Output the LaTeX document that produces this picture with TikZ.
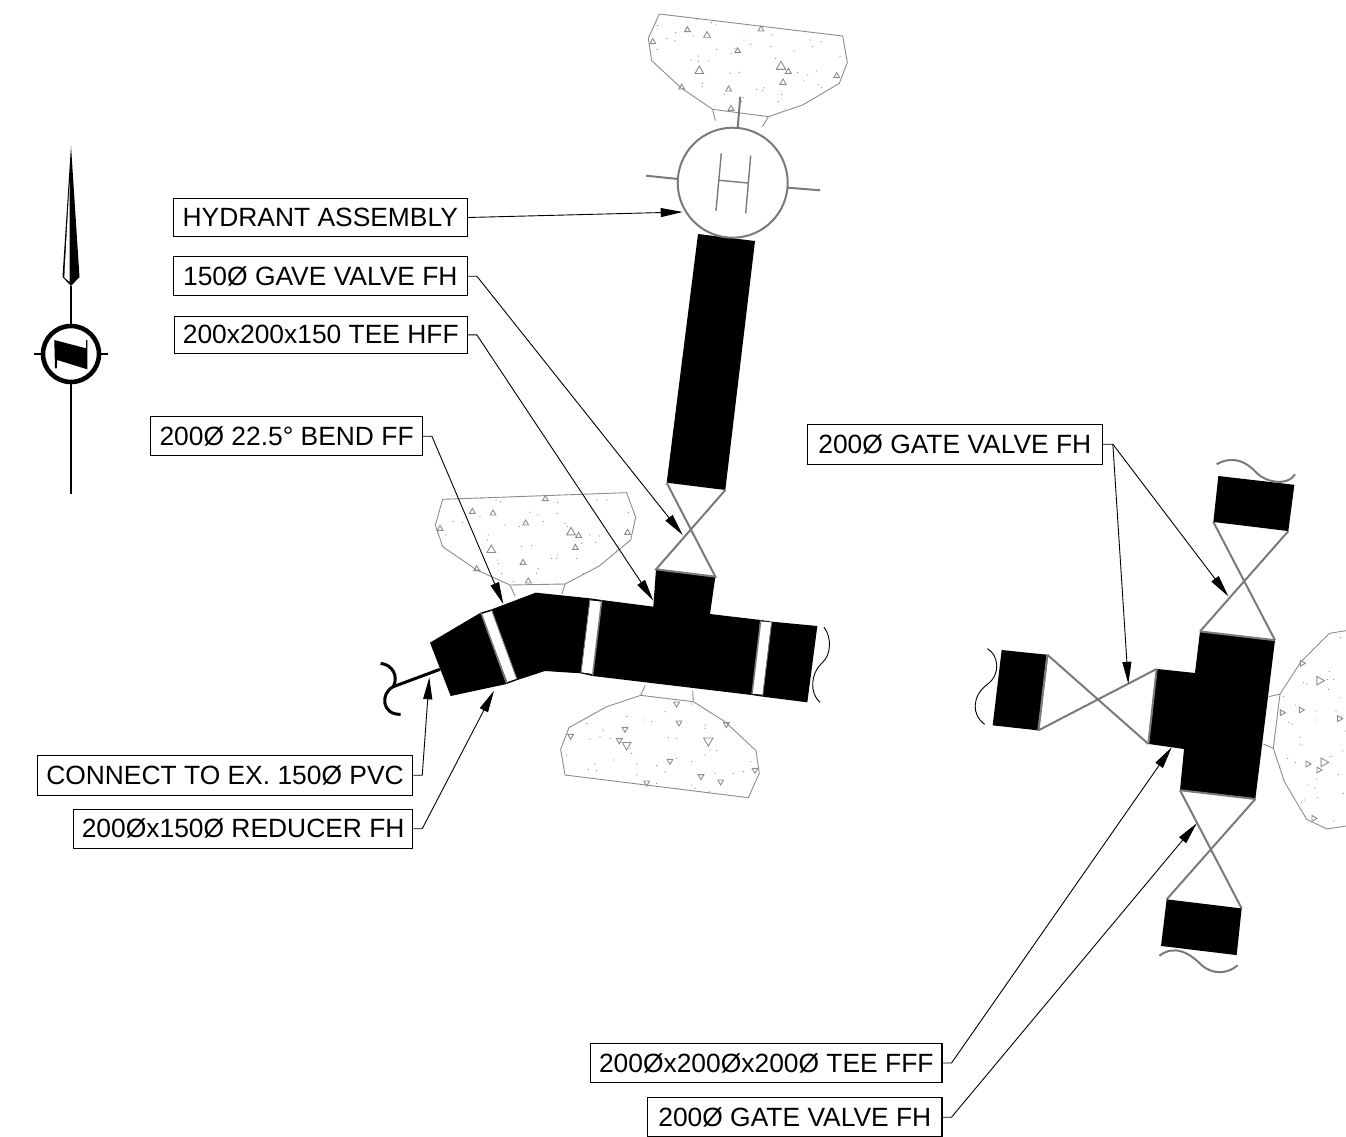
\documentclass[tikz,border=0pt]{standalone}
\usepackage{fontspec}
\setmainfont{Liberation Sans}
\usetikzlibrary{arrows.meta}
\definecolor{linegray}{HTML}{7A7A7A}
\definecolor{blockgray}{HTML}{8C8C8C}
\tikzset{
  label box/.style={draw=black,line width=1.1pt,fill=white,inner sep=0pt,align=center,
    font=\fontsize{26.4}{30}\selectfont},
  leader/.style={draw=black,line width=0.9pt,-{Triangle[length=22pt,width=9pt]}},
  fitting/.style={fill=black,draw=none},
  valve line/.style={draw=linegray,line width=2pt},
  gap line/.style={draw=linegray,line width=1.5pt},
  block/.style={draw=blockgray,line width=0.9pt},
  gap/.style={fill=white,draw=none},
  curl/.style={draw=black,line width=0.9pt},
}
\newcommand{\aggtri}[2]{% rotation; list of x/y/r
  \foreach \a/\b/\s in {#2}{\draw[block] (\a,\b) +(#1:1.25*\s) -- +(#1+120:1.25*\s) -- +(#1+240:1.25*\s) -- cycle;}}
\newcommand{\aggdots}[1]{%
  \foreach \a/\b in {#1}{\fill[blockgray] (\a,\b) circle (1.8);}}
\begin{document}
\begin{tikzpicture}[x=1pt,y=-1pt]
\useasboundingbox (0,0) rectangle (1346,1137);
\clip (0,0) rectangle (1346,1137);

% north arrow
\fill[black] (71,146) -- (79.5,277) -- (71,286) -- (62.5,277) -- cycle;
\fill[white] (69.6,182) -- (69.6,282) -- (64.4,277.5) -- (64.6,270) -- cycle;
\draw[black,line width=1.3pt] (71,286) -- (71,494);
\draw[black,line width=1.3pt] (34,354) -- (108,354);
\draw[black,fill=white,line width=4.6pt] (71,354) circle (28);
\fill[black] (54.3,340) -- (86,348.3) -- (86,340) -- (87.3,340) -- (87.3,369.3) -- (57.3,360) -- (56.7,368.3) -- (55,368.3) -- cycle;

% hydrant
\begin{scope}[shift={(630,0)},scale=1/3]
\draw[block] (88,42) -- (638,108) -- (652,187) -- (628,250) -- (518,315) -- (415,350) -- (248,328) -- (155,265) -- (65,182) -- (55,115) -- cycle;
\draw[block] (248,328) -- (256,362);
\draw[block] (415,350) -- (397,380);
\aggtri{-90}{172/90/8,231/106/9,68/126/8,393/88/8,323/153/8,208/213/12,453/200/13,475/215/8,459/248/9,620/228/8,296/268/8,155/262/8,303/326/8}
\aggdots{83/77,203/58,245/68,258/75,137/98,190/108,110/115,135/122,82/148,260/148,205/168,183/180,205/185,237/183,342/120,362/133,315/145,303/160,425/105,422/140,492/153,540/120,573/125,547/140,630/170,437/175,503/218,533/225,560/213,522/243,565/255,575/263,300/220,328/217,217/250,216/260,380/268,402/263,397/272,455/283,445/305,283/283,340/293,335/305,255/318,465/327,163/268}
\end{scope}
\fill[fitting] (698,234) -- (755,241) -- (725.3,490) -- (666.7,482.7) -- cycle;
\draw[valve line,fill=white] (732.7,182.7) circle (55);
\draw[valve line] (646,175.7) -- (678,179);
\draw[valve line] (788,187.7) -- (820,190.3);
\draw[valve line] (737.7,127.7) -- (740.3,96.7);
\draw[draw=linegray,line width=1.4pt] (721.3,153.3) -- (716,210.7) (750.7,155.7) -- (745.7,213.3) (718.7,180.3) -- (748.3,183);

% west block
\begin{scope}[shift={(370,480)},scale=1/3]
\draw[block] (218,58) -- (770,38) -- (797,112) -- (782,180) -- (688,258) -- (585,312) -- (420,315) -- (320,270) -- (218,200) -- (196,135) -- cycle;
\draw[block] (420,315) -- (435,348);
\draw[block] (585,312) -- (576,342);
\aggtri{-90}{307/95/8,369/100/8,210/146/8,526/57/8,467/130/8,364/210/12,603/157/12,626/167/8,616/203/8,773/158/8,459/248/8,320/267/8,475/304/8}
\aggdots{335/55,378/60,392/65,433/50,563/67,680/60,710/60,775/98,480/97,503/105,562/100,330/110,277/128,250/125,228/165,355/165,352/180,405/135,448/140,520/125,585/130,592/140,660/165,688/168,677/187,383/240,455/200,485/197,545/235,560/235,562/225,620/235,640/280,505/265,500/280,430/305,395/280,385/250,330/270,740/210,745/200,635/190}
% south block
\draw[block] (812,646) -- (970,665) -- (1065,725) -- (1158,812) -- (1168,880) -- (1135,953) -- (585,885) -- (572,808) -- (597,743) -- (710,680) -- cycle;
\draw[block] (812,646) -- (826,616);
\draw[block] (970,665) -- (968,632);
\aggtri{90}{920/671/8,927/728/8,765/747/8,748/781/8,770/795/12,1015/782/13,900/843/8,993/889/8,1052/905/8,830/908/8,1155/870/8,1069/733/8,602/768/8}
\aggdots{965/672,885/695,770/710,825/720,845/725,650/730,700/750,690/770,660/778,720/775,730/840,895/773,920/775,1005/735,1005/745,1020/810,1040/812,1005/825,590/825,965/845,920/835,800/852,860/857,885/875,675/853,655/868,680/872,800/885,1143/845,1120/875,1090/880,1035/880,1020/935,965/915,975/925,920/925,860/910,785/820,780/805}
% main run
\fill[fitting] (180,488) -- (332,398) -- (410,612) -- (242,648) -- cycle;
\fill[fitting] (365,388) -- (497,338) -- (660,355) -- (632,580) -- (525,573) -- (442,600) -- cycle;
\fill[fitting] (695,360) -- (850,380) -- (858,268) -- (1036,290) -- (1020,402) -- (1172,420) -- (1145,645) -- (668,588) -- cycle;
\fill[fitting] (1205,425) -- (1342,438) -- (1312,667) -- (1178,650) -- cycle;
\fill[black] (332,398) -- (365,388) -- (442,600) -- (410,612) -- cycle;
\fill[black] (660,355) -- (695,360) -- (668,588) -- (632,580) -- cycle;
\fill[black] (1172,420) -- (1205,425) -- (1178,650) -- (1145,645) -- cycle;
\fill[gap] (335,402) -- (365,393) -- (440,596) -- (412,606) -- cycle;
\fill[gap] (660,361) -- (694,365) -- (668,582) -- (634,577) -- cycle;
\fill[gap] (1171,424) -- (1204,427) -- (1178,644) -- (1146,641) -- cycle;
\draw[gap line] (333,398) -- (410,610);
\draw[gap line] (695,362) -- (668,586);
\draw[gap line] (1172,422) -- (1146,643);
\draw[draw=linegray,line width=0.8pt] (365,390) -- (441,598) (660,357) -- (633,578) (1205,427) -- (1178,648);
% valve on branch
\draw[valve line] (890,8) -- (1036,290) -- (858,268) -- (1066,30);
% reducer tail
\draw[black,line width=3pt] (210,568) -- (70,620);
\draw[black,line width=3pt] (32,550) .. controls (70,555) and (85,590) .. (70,620) .. controls (30,640) and (35,705) .. (92,703);
\draw[curl] (1362,442) .. controls (1385,470) and (1385,525) .. (1355,550) .. controls (1322,580) and (1318,640) .. (1350,667);
\end{scope}

% east tee
\begin{scope}[shift={(970,450)},xscale=1/3,yscale=1/2.96]
\draw[valve line] (232,606) -- (535,870) (205,830) -- (560,648) (232,606) -- (205,830);
\draw[valve line] (690,537) -- (955,240) (730,213) -- (915,563);
\draw[valve line] (630,1007) -- (815,1357) (856,1033) -- (590,1330);
\fill[fitting] (745,77) -- (973,103) -- (955,240) -- (730,213) -- cycle;
\fill[fitting] (95,592) -- (232,606) -- (205,830) -- (68,815) -- cycle;
\fill[fitting] (590,1330) -- (815,1357) -- (800,1495) -- (573,1468) -- cycle;
\fill[fitting] (690,537) -- (915,563) -- (856,1033) -- (630,1007) -- (642,885) -- (535,870) -- (560,648) -- (675,660) -- cycle;
\draw[valve line] (690,537) -- (915,563) (630,1007) -- (856,1033) (560,648) -- (535,870) (232,606) -- (205,830);
\draw[valve line] (740,42) .. controls (790,15) and (830,35) .. (860,68) .. controls (895,100) and (955,105) .. (975,72);
\draw[valve line] (568,1497) .. controls (615,1462) and (660,1490) .. (695,1525) .. controls (730,1555) and (775,1550) .. (803,1525);
\draw[curl] (52,588) .. controls (85,605) and (95,665) .. (50,695) .. controls (5,730) and (5,785) .. (44,812);
\end{scope}

% east block
\begin{scope}[shift={(1256,620)},scale=1/3]
\draw[block] (270,32) -- (220,40) -- (135,125) -- (72,222) -- (52,385) -- (85,485) -- (152,598) -- (213,627) -- (270,618);
\draw[block] (72,222) -- (38,230);
\draw[block] (52,385) -- (22,372);
\aggtri{0}{190/182/12,135/270/8,78/278/8,250/296/8,155/432/8,203/427/12,188/450/8,173/595/8,138/130/8}
\aggdots{253/52,220/155,215/178,233/178,143/188,152/192,217/208,252/232,82/230,118/255,181/273,240/273,183/300,257/288,98/308,108/313,268/333,132/352,130/372,138/375,260/393,95/415,118/428,222/410,228/408,247/463,72/438,183/477,157/495,177/505,262/520,185/533,145/540,137/547,232/603}
\end{scope}

% labels
\node[label box,minimum width=294pt,minimum height=38.4pt] (hyd) at (320.3,217.5) {HYDRANT ASSEMBLY};
\node[label box,minimum width=294pt,minimum height=39pt] (gv150) at (320.3,276.2) {150Ø GAVE VALVE FH};
\node[label box,minimum width=293pt,minimum height=37.7pt] (tee150) at (320.8,334.9) {200x200x150 TEE HFF};
\node[label box,minimum width=271.5pt,minimum height=39pt] (bend) at (286.6,436.2) {200Ø 22.5° BEND FF};
\node[label box,minimum width=375.4pt,minimum height=39.7pt] (conn) at (225,775.2) {CONNECT TO EX. 150Ø PVC};
\node[label box,minimum width=339pt,minimum height=38.7pt] (red) at (243.2,828.7) {200Øx150Ø REDUCER FH};
\node[label box,minimum width=351.3pt,minimum height=39.4pt] (teefff) at (766.3,1063) {200Øx200Øx200Ø TEE FFF};
\node[label box,minimum width=294.3pt,minimum height=38.6pt] (gvs) at (794.8,1117.2) {200Ø GATE VALVE FH};
\node[label box,minimum width=295pt,minimum height=39.7pt] (gvn) at (954.8,444.2) {200Ø GATE VALVE FH};

\coordinate (tHyd) at (682.7,212);
\coordinate (tGv) at (682.7,535);
\coordinate (tTee) at (653.3,600.7);
\coordinate (tBend) at (503.3,604);
\coordinate (tConn) at (429.3,677.3);
\coordinate (tRed) at (494,690.7);
\coordinate (tFff) at (1171.7,747.3);
\coordinate (tGvs) at (1196.7,823.3);
\coordinate (tGvA) at (1128.3,683.8);
\coordinate (tGvB) at (1228.3,596.3);

\draw[leader] (hyd.east) -- (tHyd);
\draw[leader] (gv150.east) -- ++(9,0) -- (tGv);
\draw[leader] (tee150.east) -- ++(9,0) -- (tTee);
\draw[leader] (bend.east) -- ++(9,0) -- (tBend);
\draw[leader] (conn.east) -- ++(9,0) -- (tConn);
\draw[leader] (red.east) -- ++(9,0) -- (tRed);
\draw[leader] (teefff.east) -- ++(9,0) -- (tFff);
\draw[leader] (gvs.east) -- ++(9,0) -- (tGvs);
\draw[leader] (gvn.east) -- ++(10,0) -- (tGvA);
\draw[leader] (gvn.east) ++(10,0) -- (tGvB);
\end{tikzpicture}
\end{document}
